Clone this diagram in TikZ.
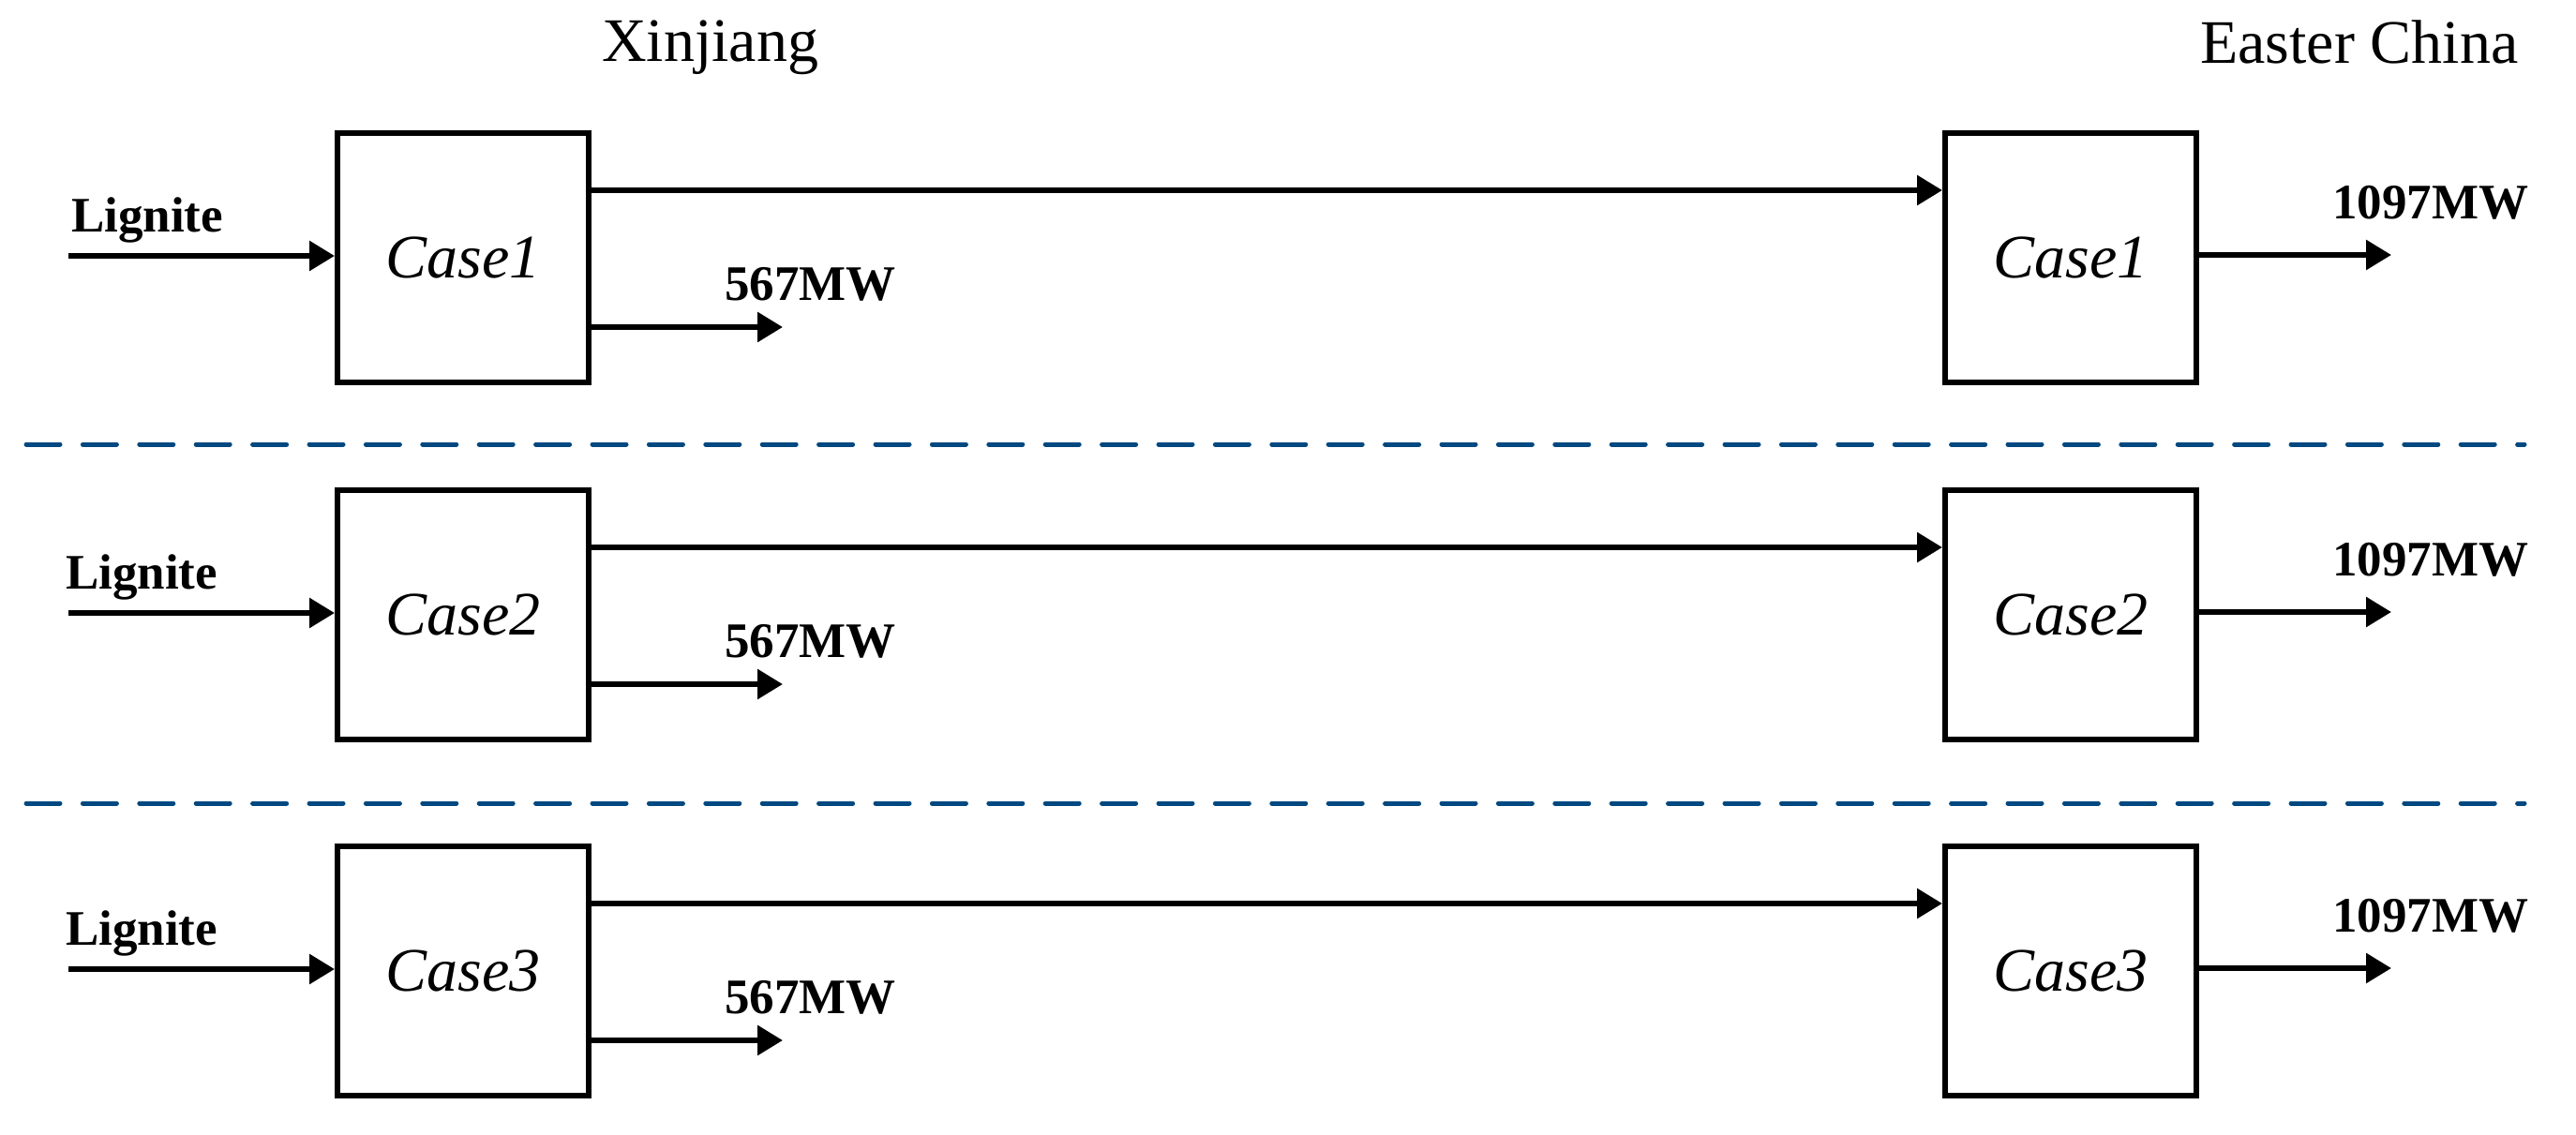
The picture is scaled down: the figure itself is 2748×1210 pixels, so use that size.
\documentclass[tikz,border=0pt]{standalone}
\usepackage{fontspec}
\setmainfont{Liberation Serif}
\usetikzlibrary{arrows.meta}
\definecolor{dashblue}{RGB}{0,72,128}
\begin{document}
\begin{tikzpicture}[x=1pt,y=-1pt,
  casebox/.style={draw, line width=6pt, minimum width=268pt, minimum height=266pt, inner sep=0pt, font=\fontsize{66}{79}\selectfont\itshape},
  flow/.style={line width=6pt, -{Triangle[length=27pt,width=31pt]}},
  lbl/.style={anchor=base west, inner sep=0pt, font=\fontsize{53}{64}\selectfont\bfseries},
  head/.style={anchor=base west, inner sep=0pt, font=\fontsize{66}{80}\selectfont},
  sep/.style={draw=dashblue, line width=5pt, line cap=round, dash pattern=on 36pt off 24.4pt}]
\useasboundingbox (0,0) rectangle (2748,1210);
\node[head] (xj) at (642,65) {Xinjiang};
\node[head] (ec) at (2347,67) {Easter China};
\foreach \i/\dy/\lx in {1/0/76,2/381/70,3/761/70}{
  \node[casebox] (L\i) at (494,275+\dy) {Case\i};
  \node[casebox] (R\i) at (2209,275+\dy) {Case\i};
  \coordinate (in\i) at (73,273+\dy);
  \coordinate (t\i) at (0,203+\dy);
  \coordinate (out\i) at (835,349+\dy);
  \coordinate (end\i) at (2551,272+\dy);
  \node[lbl] (lig\i) at (\lx,247+\dy) {Lignite};
  \node[lbl] (mw\i) at (773,320+\dy) {567MW};
  \node[lbl] (tw\i) at (2488,233+\dy) {1097MW};
  \draw[flow] (in\i) -- (in\i -| L\i.west);
  \draw[flow] (L\i.east |- t\i) -- (R\i.west |- t\i);
  \draw[flow] (L\i.east |- out\i) -- (out\i);
  \draw[flow] (R\i.east |- end\i) -- (end\i);
}
\coordinate (d1a) at (28,474);
\coordinate (d1b) at (2693,474);
\coordinate (d2a) at (28,857);
\coordinate (d2b) at (2693,857);
\draw[sep] (d1a) -- (d1b);
\draw[sep] (d2a) -- (d2b);
\end{tikzpicture}
\end{document}
